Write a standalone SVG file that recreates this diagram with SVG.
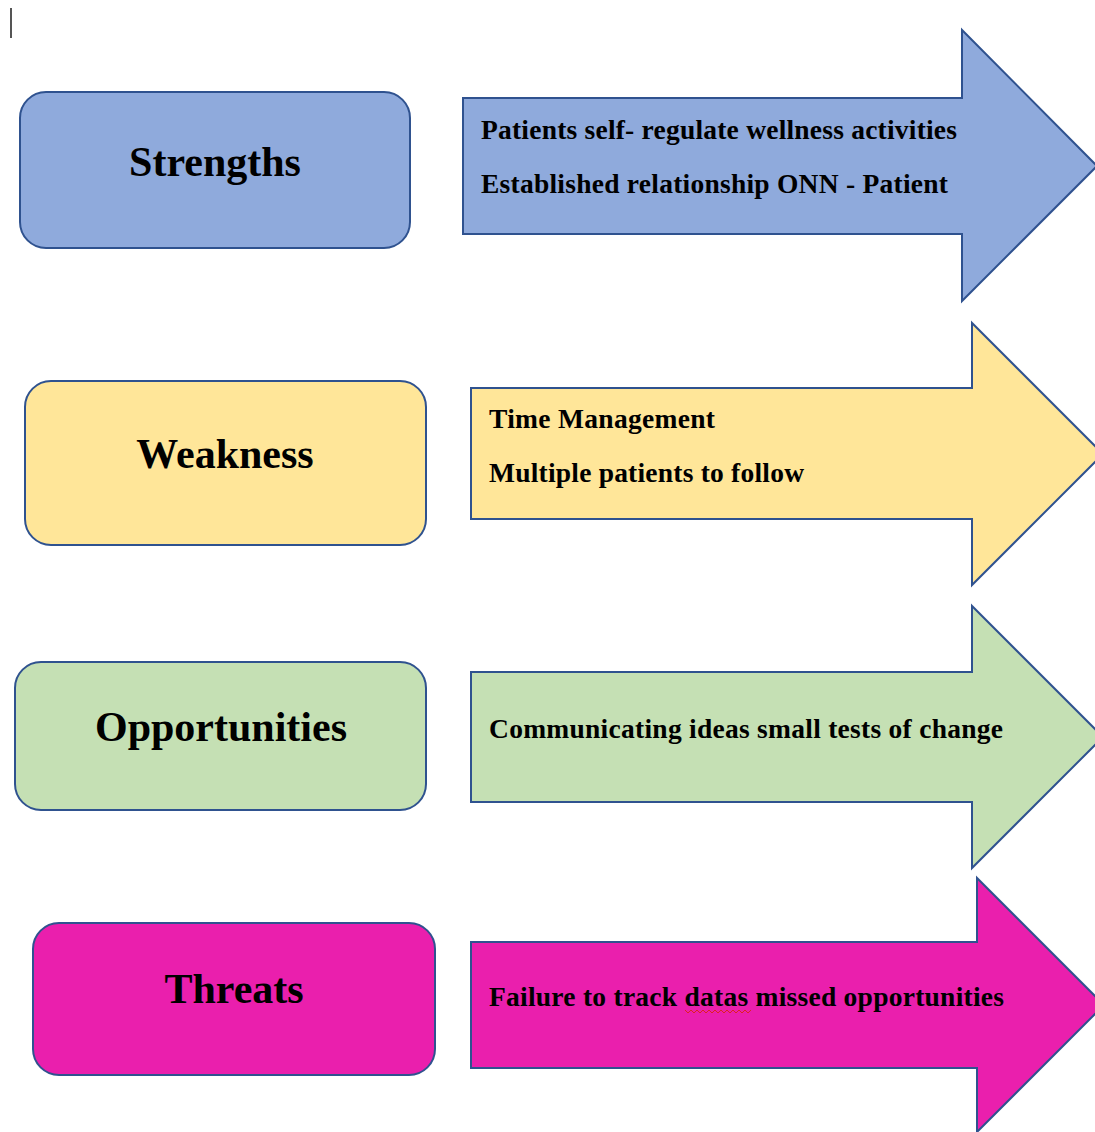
<svg xmlns="http://www.w3.org/2000/svg" width="1095" height="1132" viewBox="0 0 1095 1132">
<style>
.box{stroke:#2f528f;stroke-width:2}
.arr{stroke:#2f528f;stroke-width:2;stroke-linejoin:miter}
.lbl{font-family:"Liberation Serif","Times New Roman",serif;font-weight:bold;font-size:42px;fill:#000;text-anchor:middle}
.txt{font-family:"Liberation Serif","Times New Roman",serif;font-weight:bold;font-size:27.5px;fill:#000}
.blue{fill:#8faadc}.yellow{fill:#ffe699}.green{fill:#c5e0b4}.pink{fill:#ea1fad}
</style>
<rect x="10" y="8" width="2" height="30" fill="#555"/>
<g id="strengths">
<rect class="box blue" x="20" y="92" width="390" height="156" rx="26"/>
<text class="lbl" x="215" y="176">Strengths</text>
</g>
<g id="strengths-arrow">
<path class="arr blue" d="M463 98 H962 V30 L1097 166 L962 301 V234 H463 Z"/>
<text class="txt" x="481" y="139" textLength="476">Patients self- regulate wellness activities</text>
<text class="txt" x="481" y="193" textLength="467">Established relationship ONN - Patient</text>
</g>
<g id="weakness">
<rect class="box yellow" x="25" y="381" width="401" height="164" rx="26"/>
<text class="lbl" x="225" y="468">Weakness</text>
</g>
<g id="weakness-arrow">
<path class="arr yellow" d="M471 388 H972 V323 L1103 454 L972 585 V519 H471 Z"/>
<text class="txt" x="489" y="428" textLength="226">Time Management</text>
<text class="txt" x="489" y="482" textLength="315">Multiple patients to follow</text>
</g>
<g id="opportunities">
<rect class="box green" x="15" y="662" width="411" height="148" rx="26"/>
<text class="lbl" x="221" y="741">Opportunities</text>
</g>
<g id="opportunities-arrow">
<path class="arr green" d="M471 672 H972 V606 L1103 737 L972 868 V802 H471 Z"/>
<text class="txt" x="489" y="738" textLength="514">Communicating ideas small tests of change</text>
</g>
<g id="threats">
<rect class="box pink" x="33" y="923" width="402" height="152" rx="26"/>
<text class="lbl" x="234" y="1003">Threats</text>
</g>
<g id="threats-arrow">
<path class="arr pink" d="M471 942 H977 V878 L1104 1005 L977 1132 V1068 H471 Z"/>
<text class="txt" x="489" y="1006" textLength="515">Failure to track datas missed opportunities</text>
<polyline points="685,1010 688,1013 691,1010 694,1013 697,1010 700,1013 703,1010 706,1013 709,1010 712,1013 715,1010 718,1013 721,1010 724,1013 727,1010 730,1013 733,1010 736,1013 739,1010 742,1013 745,1010 748,1013 751,1010" fill="none" stroke="#e02020" stroke-width="1"/>
</g>
<g id="connectors"/>
</svg>
